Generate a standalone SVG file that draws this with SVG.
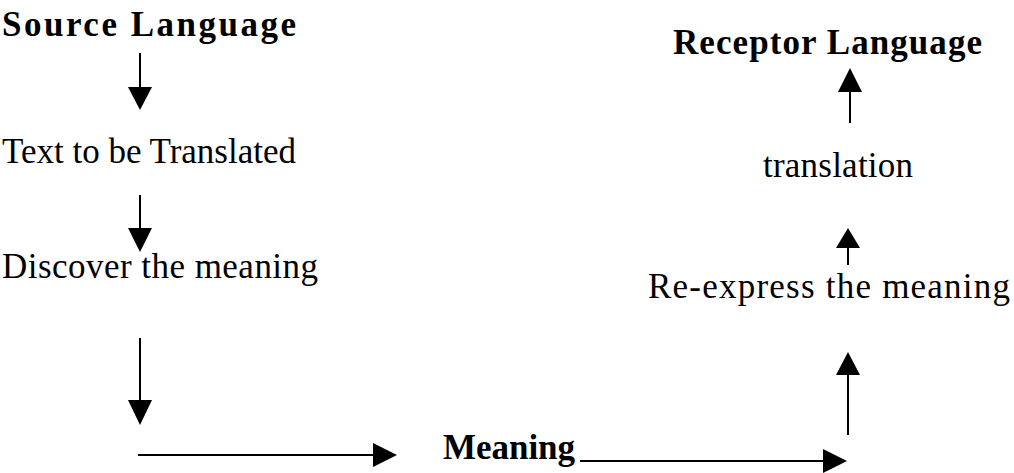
<svg xmlns="http://www.w3.org/2000/svg" width="1014" height="473" viewBox="0 0 1014 473">
<style>
.t{font-family:"Liberation Serif","Times New Roman",serif;font-size:35px;fill:#000}
.b{font-weight:bold;font-size:35px}
.ln{stroke:#000;stroke-width:2;fill:none}
.hd{fill:#000}
</style>
<rect width="1014" height="473" fill="#fff"/>
<g id="source"><text class="t b" x="2" y="36" textLength="294">Source Language</text></g>
<g id="text"><text class="t" x="2" y="163" textLength="294">Text to be Translated</text></g>
<g id="discover"><text class="t" x="2" y="278" textLength="316">Discover the meaning</text></g>
<g id="meaning"><text class="t b" x="443" y="459" textLength="132">Meaning</text></g>
<g id="reexpress"><text class="t" x="648" y="298" textLength="362">Re-express the meaning</text></g>
<g id="translation"><text class="t" x="763" y="177" textLength="150">translation</text></g>
<g id="receptor"><text class="t b" x="673" y="54" textLength="309">Receptor Language</text></g>
<g id="connectors">
<line class="ln" x1="140" y1="53" x2="140" y2="88"/><polygon class="hd" points="128,87 152,87 140,110"/>
<line class="ln" x1="140" y1="195" x2="140" y2="229"/><polygon class="hd" points="128,228 152,228 140,252"/>
<line class="ln" x1="140" y1="338" x2="140" y2="401"/><polygon class="hd" points="128,400 152,400 140,425"/>
<line class="ln" x1="138" y1="455" x2="374" y2="455"/><polygon class="hd" points="373,443 373,467 397,455"/>
<line class="ln" x1="580" y1="461" x2="824" y2="461"/><polygon class="hd" points="823,449 823,473 847,461"/>
<line class="ln" x1="848" y1="435" x2="848" y2="374"/><polygon class="hd" points="836,375 860,375 848,352"/>
<line class="ln" x1="848" y1="265" x2="848" y2="247"/><polygon class="hd" points="836,248 860,248 848,228"/>
<line class="ln" x1="850" y1="123" x2="850" y2="91"/><polygon class="hd" points="838,92 862,92 850,68"/>
</g>
</svg>
